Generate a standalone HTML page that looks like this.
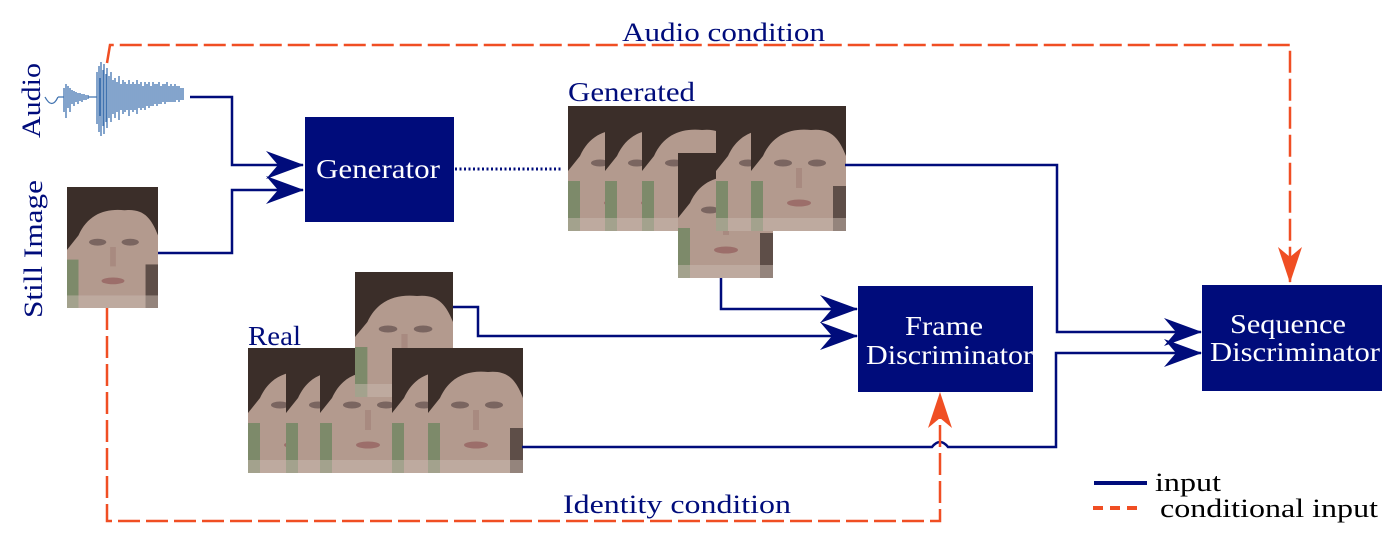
<!DOCTYPE html>
<html><head><meta charset="utf-8"><style>
html,body{margin:0;padding:0;background:#fff;}
svg{display:block;}
text{font-family:"Liberation Serif",serif;}
</style></head><body>
<svg width="1400" height="560" viewBox="0 0 1400 560" xmlns="http://www.w3.org/2000/svg">
<defs>
<symbol id="f" viewBox="0 0 95 125" preserveAspectRatio="none">
<rect width="95" height="125" fill="#b39a8e"/>
<rect x="0" y="75" width="12" height="50" fill="#7d8a6a"/>
<rect x="82" y="80" width="13" height="45" fill="#5e4e48"/>
<path d="M0 0H95V50C88 32 80 22 60 24C40 22 22 28 12 50L0 65Z" fill="#3b2e29"/>
<ellipse cx="32" cy="57" rx="9" ry="3.5" fill="#7a6560"/>
<ellipse cx="66" cy="57" rx="9" ry="3.5" fill="#7a6560"/>
<rect x="45" y="62" width="6" height="20" fill="#a88a80"/>
<ellipse cx="48" cy="97" rx="12" ry="3.5" fill="#9c6e6a"/>
<rect x="0" y="112" width="95" height="13" fill="#c9b9b0" opacity="0.5"/>
</symbol>
<marker id="ab" markerWidth="38" markerHeight="28" refX="37" refY="14" orient="auto" markerUnits="userSpaceOnUse">
<path d="M0 0L38 14L0 28L12 14Z" fill="#000c7b"/></marker>
<marker id="ao" markerWidth="36" markerHeight="24" refX="35" refY="12" orient="auto" markerUnits="userSpaceOnUse">
<path d="M0 0L36 12L0 24L10 12Z" fill="#f04e23"/></marker>
</defs>

<!-- audio condition -->
<polyline points="107,63 110,45 1290,45 1290,282" fill="none" stroke="#f04e23" stroke-width="2.5" stroke-dasharray="22,6" marker-end="url(#ao)"/>
<text x="622" y="41" font-size="26" fill="#000c7b" textLength="203" lengthAdjust="spacingAndGlyphs">Audio  condition</text>

<!-- labels -->
<text transform="translate(40,138) rotate(-90)" font-size="26" fill="#000c7b" textLength="75" lengthAdjust="spacingAndGlyphs">Audio</text>
<text transform="translate(42,318) rotate(-90)" font-size="26" fill="#000c7b" textLength="138" lengthAdjust="spacingAndGlyphs">Still  Image</text>

<!-- waveform -->
<g stroke="#4173b0" stroke-width="1.3" fill="none">
<path d="M45 97 Q52 110 58 97"/>
<path d="M64 88V112M66 84V118M68 86V108M70 88V112M72 90V104M74 91V106M76 92V102M78 93V104M80 93V101M82 94V102M84 94V100M86 95V100M88 95V99"/>
<path d="M97 72V124M99 66V132M100 78V116M101 62V136M103 70V126M104 64V134M106 74V122M107 68V128M109 76V118M111 72V122M113 80V114M115 78V118M117 82V112M119 76V120M121 84V110M123 80V114M125 82V112M127 84V110M129 80V116M131 84V110M133 82V112M135 84V110M137 80V114M139 84V108M141 82V110M143 86V108M145 82V110M147 84V106M149 82V108M151 86V106M153 82V106M155 84V104M157 84V106M159 82V104M161 86V104M163 84V102M165 84V104M167 82V102M169 86V102M171 84V102M173 86V102M175 84V102M177 86V100M179 86V102M181 88V100M183 88V100"/>
<path d="M88 97H97M58 97H64"/>
</g>

<!-- still image -->
<use href="#f" x="67" y="187" width="91" height="121"/>

<!-- generator -->
<polyline points="190,97 232,97 232,165 303,165" fill="none" stroke="#000c7b" stroke-width="2.5" marker-end="url(#ab)"/>
<polyline points="158,253 232,253 232,190 303,190" fill="none" stroke="#000c7b" stroke-width="2.5" marker-end="url(#ab)"/>
<rect x="305" y="117" width="149" height="105" fill="#000c7b"/>
<text x="316" y="178" font-size="27" fill="#fff" textLength="124" lengthAdjust="spacingAndGlyphs">Generator</text>
<line x1="455" y1="169" x2="562" y2="169" stroke="#000c7b" stroke-width="3" stroke-dasharray="2,2.5"/>

<!-- generated -->
<text x="568" y="101" font-size="27" fill="#000c7b" textLength="127" lengthAdjust="spacingAndGlyphs">Generated</text>
<use href="#f" x="568" y="106" width="95" height="125"/>
<use href="#f" x="605" y="106" width="95" height="125"/>
<use href="#f" x="642" y="106" width="95" height="125"/>
<use href="#f" x="678" y="153" width="95" height="125"/>
<use href="#f" x="716" y="106" width="95" height="125"/>
<use href="#f" x="751" y="106" width="95" height="125"/>

<!-- real -->
<text x="248" y="345" font-size="27" fill="#000c7b" textLength="53" lengthAdjust="spacingAndGlyphs">Real</text>
<use href="#f" x="248" y="348" width="95" height="125"/>
<use href="#f" x="286" y="348" width="95" height="125"/>
<use href="#f" x="320" y="348" width="95" height="125"/>
<use href="#f" x="355" y="272" width="98" height="125"/>
<use href="#f" x="392" y="348" width="95" height="125"/>
<use href="#f" x="428" y="348" width="95" height="125"/>

<!-- lines to discriminators -->
<polyline points="721,278 721,309 857,309" fill="none" stroke="#000c7b" stroke-width="2.5" marker-end="url(#ab)"/>
<polyline points="453,307 478,307 478,336 857,336" fill="none" stroke="#000c7b" stroke-width="2.5" marker-end="url(#ab)"/>
<polyline points="845,165 1057,165 1057,332 1201,332" fill="none" stroke="#000c7b" stroke-width="2.5" marker-end="url(#ab)"/>
<path d="M522,447 H932 Q940,437 948,447 H1056 V353 H1201" fill="none" stroke="#000c7b" stroke-width="2.5" marker-end="url(#ab)"/>

<!-- identity condition -->
<polyline points="107,308 107,521 940,521 940,393" fill="none" stroke="#f04e23" stroke-width="2.5" stroke-dasharray="22,6" marker-end="url(#ao)"/>
<text x="563" y="513" font-size="26" fill="#000c7b" textLength="228" lengthAdjust="spacingAndGlyphs">Identity  condition</text>

<rect x="858" y="286" width="175" height="106" fill="#000c7b"/>
<text x="905" y="335" font-size="27" fill="#fff" textLength="78" lengthAdjust="spacingAndGlyphs">Frame</text>
<text x="866" y="364" font-size="27" fill="#fff" textLength="167" lengthAdjust="spacingAndGlyphs">Discriminator</text>

<rect x="1202" y="285" width="180" height="106" fill="#000c7b"/>
<text x="1230" y="333" font-size="27" fill="#fff" textLength="116" lengthAdjust="spacingAndGlyphs">Sequence</text>
<text x="1210" y="361" font-size="27" fill="#fff" textLength="170" lengthAdjust="spacingAndGlyphs">Discriminator</text>

<!-- legend -->
<line x1="1094" y1="483" x2="1147" y2="483" stroke="#000c7b" stroke-width="4"/>
<text x="1155" y="491" font-size="26" fill="#000" textLength="66" lengthAdjust="spacingAndGlyphs">input</text>
<line x1="1093" y1="508" x2="1143" y2="508" stroke="#f04e23" stroke-width="4" stroke-dasharray="10,7"/>
<text x="1160" y="517" font-size="26" fill="#000" textLength="218" lengthAdjust="spacingAndGlyphs">conditional  input</text>
</svg>
</body></html>
